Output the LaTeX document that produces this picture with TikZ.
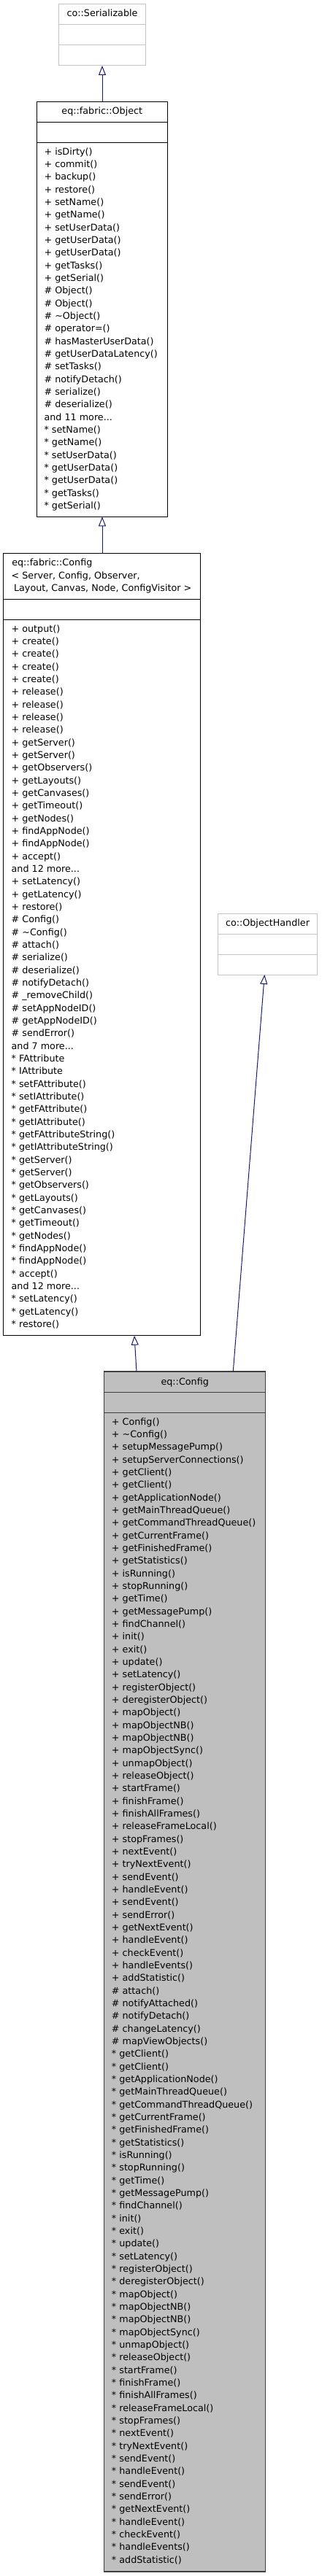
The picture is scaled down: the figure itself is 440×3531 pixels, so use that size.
\documentclass[tikz,border=0pt]{standalone}
\usepackage{fontspec}
\setmainfont{DejaVu Sans}
\usetikzlibrary{arrows.meta}
\definecolor{edgeblue}{HTML}{191970}
\definecolor{boxgray}{HTML}{BFBFBF}
\definecolor{lightborder}{HTML}{C4C4C4}
\definecolor{darkborder}{HTML}{404040}
\newcommand\mdots{...}
\newcommand\memberlist[4]{%
  \foreach \t [count=\i from 0] in {#4} {\node[memtext] (#1-\i) at ({#2},{#3+\i*17.33}) {\t};}}
\tikzset{
  cls/.style={draw=black, line width=0.75pt, inner sep=0pt, outer sep=0pt, rectangle},
  extcls/.style={cls, draw=lightborder},
  curcls/.style={cls, draw=darkborder, fill=boxgray, line width=1pt},
  memtext/.style={anchor=base west, inner sep=0pt},
  titletext/.style={anchor=base, inner sep=0pt},
  titleleft/.style={anchor=base west, inner sep=0pt},
  inh/.style={draw=edgeblue, line width=0.75pt, -{Triangle[open, length=9.75pt, width=7.5pt]}},
}
\begin{document}
\begin{tikzpicture}[x=0.75pt, y=-0.75pt, font=\fontsize{9.55pt}{13pt}\selectfont]
\useasboundingbox (0,0) rectangle (440,3531);

% ---------- co::Serializable
\node[extcls, minimum width=88.95pt, minimum height=63.2pt] (ser) at (140,47.85) {};
\draw[lightborder, line width=0.75pt] (ser.west |- 0,33.7) -- (ser.east |- 0,33.7);
\draw[lightborder, line width=0.75pt] (ser.west |- 0,61.7) -- (ser.east |- 0,61.7);
\node[titletext] (ser-t) at (140,22.3) {co::Serializable};

% ---------- eq::fabric::Object
\node[cls, minimum width=134.25pt, minimum height=426.75pt] (obj) at (139.8,423.8) {};
\draw[line width=0.75pt] (obj.west |- 0,167) -- (obj.east |- 0,167);
\draw[line width=0.75pt] (obj.west |- 0,195.7) -- (obj.east |- 0,195.7);
\node[titletext] (obj-t) at (139.8,156.7) {eq::fabric::Object};
\memberlist{objm}{60.3}{212.3}{%
+ isDirty(),%
+ commit(),%
+ backup(),%
+ restore(),%
+ setName(),%
+ getName(),%
+ setUserData(),%
+ getUserData(),%
+ getUserData(),%
+ getTasks(),%
+ getSerial(),%
\# Object(),%
\# Object(),%
\# \textasciitilde Object(),%
\# operator=(),%
\# hasMasterUserData(),%
\# getUserDataLatency(),%
\# setTasks(),%
\# notifyDetach(),%
\# serialize(),%
\# deserialize(),%
and 11 more\mdots,%
* setName(),%
* getName(),%
* setUserData(),%
* getUserData(),%
* getUserData(),%
* getTasks(),%
* getSerial()}

% ---------- eq::fabric::Config
\node[cls, minimum width=202.3pt, minimum height=804pt] (fconf) at (139.85,1294.7) {};
\draw[line width=0.75pt] (fconf.west |- 0,821) -- (fconf.east |- 0,821);
\draw[line width=0.75pt] (fconf.west |- 0,849.3) -- (fconf.east |- 0,849.3);
\node[titleleft] (fconf-t1) at (16,775.7) {eq::fabric::Config};
\node[titleleft] (fconf-t2) at (15.4,793) {< Server, Config, Observer,};
\node[titleleft] (fconf-t3) at (18.8,810.7) {Layout, Canvas, Node, ConfigVisitor >};
\memberlist{fconfm}{15.4}{866.3}{%
+ output(),%
+ create(),%
+ create(),%
+ create(),%
+ create(),%
+ release(),%
+ release(),%
+ release(),%
+ release(),%
+ getServer(),%
+ getServer(),%
+ getObservers(),%
+ getLayouts(),%
+ getCanvases(),%
+ getTimeout(),%
+ getNodes(),%
+ findAppNode(),%
+ findAppNode(),%
+ accept(),%
and 12 more\mdots,%
+ setLatency(),%
+ getLatency(),%
+ restore(),%
\# Config(),%
\# \textasciitilde Config(),%
\# attach(),%
\# serialize(),%
\# deserialize(),%
\# notifyDetach(),%
\# \_removeChild(),%
\# setAppNodeID(),%
\# getAppNodeID(),%
\# sendError(),%
and 7 more\mdots,%
* FAttribute,%
* IAttribute,%
* setFAttribute(),%
* setIAttribute(),%
* getFAttribute(),%
* getIAttribute(),%
* getFAttributeString(),%
* getIAttributeString(),%
* getServer(),%
* getServer(),%
* getObservers(),%
* getLayouts(),%
* getCanvases(),%
* getTimeout(),%
* getNodes(),%
* findAppNode(),%
* findAppNode(),%
* accept(),%
and 12 more\mdots,%
* setLatency(),%
* getLatency(),%
* restore()}

% ---------- co::ObjectHandler
\node[extcls, minimum width=102.3pt, minimum height=62.5pt] (ohand) at (366.5,1294.35) {};
\draw[lightborder, line width=0.75pt] (ohand.west |- 0,1280.3) -- (ohand.east |- 0,1280.3);
\draw[lightborder, line width=0.75pt] (ohand.west |- 0,1308.7) -- (ohand.east |- 0,1308.7);
\node[titletext] (ohand-t) at (366.5,1269.7) {co::ObjectHandler};

% ---------- eq::Config
\node[curcls, minimum width=165.75pt, minimum height=1233.75pt] (econf) at (253.2,2702.5) {};
\draw[darkborder, line width=1pt] (econf.west |- 0,1908.3) -- (econf.east |- 0,1908.3);
\draw[darkborder, line width=1pt] (econf.west |- 0,1936.7) -- (econf.east |- 0,1936.7);
\node[titletext] (econf-t) at (253.2,1898) {eq::Config};
\memberlist{econfm}{152.7}{1953.3}{%
+ Config(),%
+ \textasciitilde Config(),%
+ setupMessagePump(),%
+ setupServerConnections(),%
+ getClient(),%
+ getClient(),%
+ getApplicationNode(),%
+ getMainThreadQueue(),%
+ getCommandThreadQueue(),%
+ getCurrentFrame(),%
+ getFinishedFrame(),%
+ getStatistics(),%
+ isRunning(),%
+ stopRunning(),%
+ getTime(),%
+ getMessagePump(),%
+ findChannel(),%
+ init(),%
+ exit(),%
+ update(),%
+ setLatency(),%
+ registerObject(),%
+ deregisterObject(),%
+ mapObject(),%
+ mapObjectNB(),%
+ mapObjectNB(),%
+ mapObjectSync(),%
+ unmapObject(),%
+ releaseObject(),%
+ startFrame(),%
+ finishFrame(),%
+ finishAllFrames(),%
+ releaseFrameLocal(),%
+ stopFrames(),%
+ nextEvent(),%
+ tryNextEvent(),%
+ sendEvent(),%
+ handleEvent(),%
+ sendEvent(),%
+ sendError(),%
+ getNextEvent(),%
+ handleEvent(),%
+ checkEvent(),%
+ handleEvents(),%
+ addStatistic(),%
\# attach(),%
\# notifyAttached(),%
\# notifyDetach(),%
\# changeLatency(),%
\# mapViewObjects(),%
* getClient(),%
* getClient(),%
* getApplicationNode(),%
* getMainThreadQueue(),%
* getCommandThreadQueue(),%
* getCurrentFrame(),%
* getFinishedFrame(),%
* getStatistics(),%
* isRunning(),%
* stopRunning(),%
* getTime(),%
* getMessagePump(),%
* findChannel(),%
* init(),%
* exit(),%
* update(),%
* setLatency(),%
* registerObject(),%
* deregisterObject(),%
* mapObject(),%
* mapObjectNB(),%
* mapObjectNB(),%
* mapObjectSync(),%
* unmapObject(),%
* releaseObject(),%
* startFrame(),%
* finishFrame(),%
* finishAllFrames(),%
* releaseFrameLocal(),%
* stopFrames(),%
* nextEvent(),%
* tryNextEvent(),%
* sendEvent(),%
* handleEvent(),%
* sendEvent(),%
* sendError(),%
* getNextEvent(),%
* handleEvent(),%
* checkEvent(),%
* handleEvents(),%
* addStatistic()}

% ---------- inheritance connectors
\draw[inh] (obj.north -| 140,0) -- (ser.south -| 140,0);
\draw[inh] (fconf.north -| 140,0) -- (obj.south -| 140,0);
\draw[inh] (econf.north -| 187,0) -- (fconf.south -| 184,0);
\draw[inh] (econf.north -| 319.3,0) -- (ohand.south -| 362.3,0);
\end{tikzpicture}
\end{document}
